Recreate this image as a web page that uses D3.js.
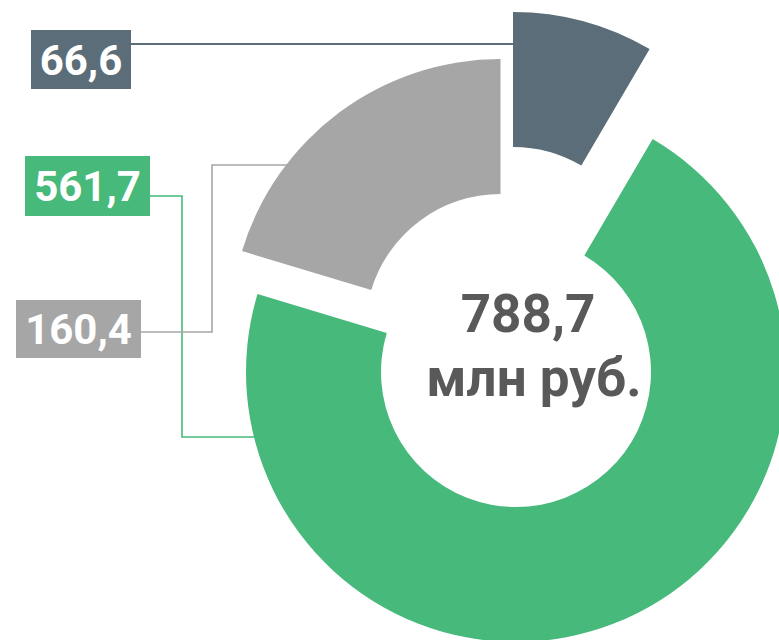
<!DOCTYPE html>
<html>
<head>
<meta charset="utf-8">
<script src="https://cdn.jsdelivr.net/npm/d3@7"></script>
<style>
  html, body { margin: 0; padding: 0; background: #ffffff; }
  svg { display: block; }
</style>
</head>
<body>
<svg id="chart" width="779" height="640"></svg>
<script>
// Budget breakdown, mln rub.
const categories = ["a", "b", "c"];
const values = [66.6, 561.7, 160.4];
const valueLabels = ["66,6", "561,7", "160,4"];
const totalLabel = ["788,7", "млн руб."];

// Styling and layout
const colors = ["#5b6d78", "#46b97b", "#a6a6a6"];
const center = { x: 516, y: 372 };
const innerR = 135, outerR = 270;
// how far each segment is pulled away from the common centre
const pull = [[-3, -90], [0, 0], [-15.5, -43]];
// label boxes: left, top, width, height; connector y and elbow x
const boxes = [
  { x: 31, y: 30, w: 100, h: 59, lineY: 44, elbowX: null },
  { x: 25, y: 156, w: 125, h: 60, lineY: 196, elbowX: 182, targetY: 437 },
  { x: 16, y: 300, w: 125, h: 58, lineY: 332, elbowX: 212, targetY: 165 }
];

const svg = d3.select("#chart");

const pie = d3.pie().sort(null).value(d => d).startAngle(0).endAngle(2 * Math.PI);
const arcs = pie(values);
const arc = d3.arc().innerRadius(innerR).outerRadius(outerR);

const segCenter = i => ({ x: center.x + pull[i][0], y: center.y + pull[i][1] });

svg.append("g").selectAll("path")
  .data(arcs)
  .join("path")
  .attr("transform", (d, i) => `translate(${segCenter(i).x},${segCenter(i).y})`)
  .attr("d", arc)
  .attr("fill", (d, i) => colors[i]);

// Outer edge x of a segment at a given y (left side)
function leftEdgeX(i, y) {
  const c = segCenter(i);
  const dy = y - c.y;
  return c.x - Math.sqrt(outerR * outerR - dy * dy);
}

// Connectors
const lineGen = d3.line();
const connectors = boxes.map((b, i) => {
  const x0 = b.x + b.w;
  if (b.elbowX === null) {
    // straight line to the segment's straight start edge
    const c = segCenter(i);
    return [[x0, b.lineY], [c.x, b.lineY]];
  }
  return [
    [x0, b.lineY],
    [b.elbowX, b.lineY],
    [b.elbowX, b.targetY],
    [leftEdgeX(i, b.targetY) + 2, b.targetY]
  ];
});

svg.append("g").selectAll("path")
  .data(connectors)
  .join("path")
  .attr("d", d => lineGen(d))
  .attr("fill", "none")
  .attr("stroke", (d, i) => colors[i])
  .attr("stroke-width", (d, i) => i === 0 ? 2 : 1.6);

// Value label boxes
const lab = svg.append("g").selectAll("g")
  .data(boxes)
  .join("g")
  .attr("transform", d => `translate(${d.x},${d.y})`);

lab.append("rect")
  .attr("width", d => d.w)
  .attr("height", d => d.h)
  .attr("fill", (d, i) => colors[i]);

lab.append("text")
  .attr("x", d => d.w / 2)
  .attr("y", d => d.h / 2)
  .attr("dy", "0.36em")
  .attr("text-anchor", "middle")
  .attr("fill", "#ffffff")
  .attr("font-family", "Roboto, 'Noto Sans', sans-serif")
  .attr("font-weight", 700)
  .attr("font-size", 42)
  .text((d, i) => valueLabels[i]);

// Total in the middle
svg.append("text")
  .attr("x", 528)
  .attr("y", 332)
  .attr("text-anchor", "middle")
  .attr("fill", "#595959")
  .attr("font-family", "Roboto, 'Noto Sans', sans-serif")
  .attr("font-weight", 700)
  .attr("font-size", 53)
  .text(totalLabel[0]);

svg.append("text")
  .attr("x", 534)
  .attr("y", 396)
  .attr("text-anchor", "middle")
  .attr("fill", "#595959")
  .attr("font-family", "Roboto, 'Noto Sans', sans-serif")
  .attr("font-weight", 700)
  .attr("font-size", 53)
  .text(totalLabel[1]);
</script>
</body>
</html>
